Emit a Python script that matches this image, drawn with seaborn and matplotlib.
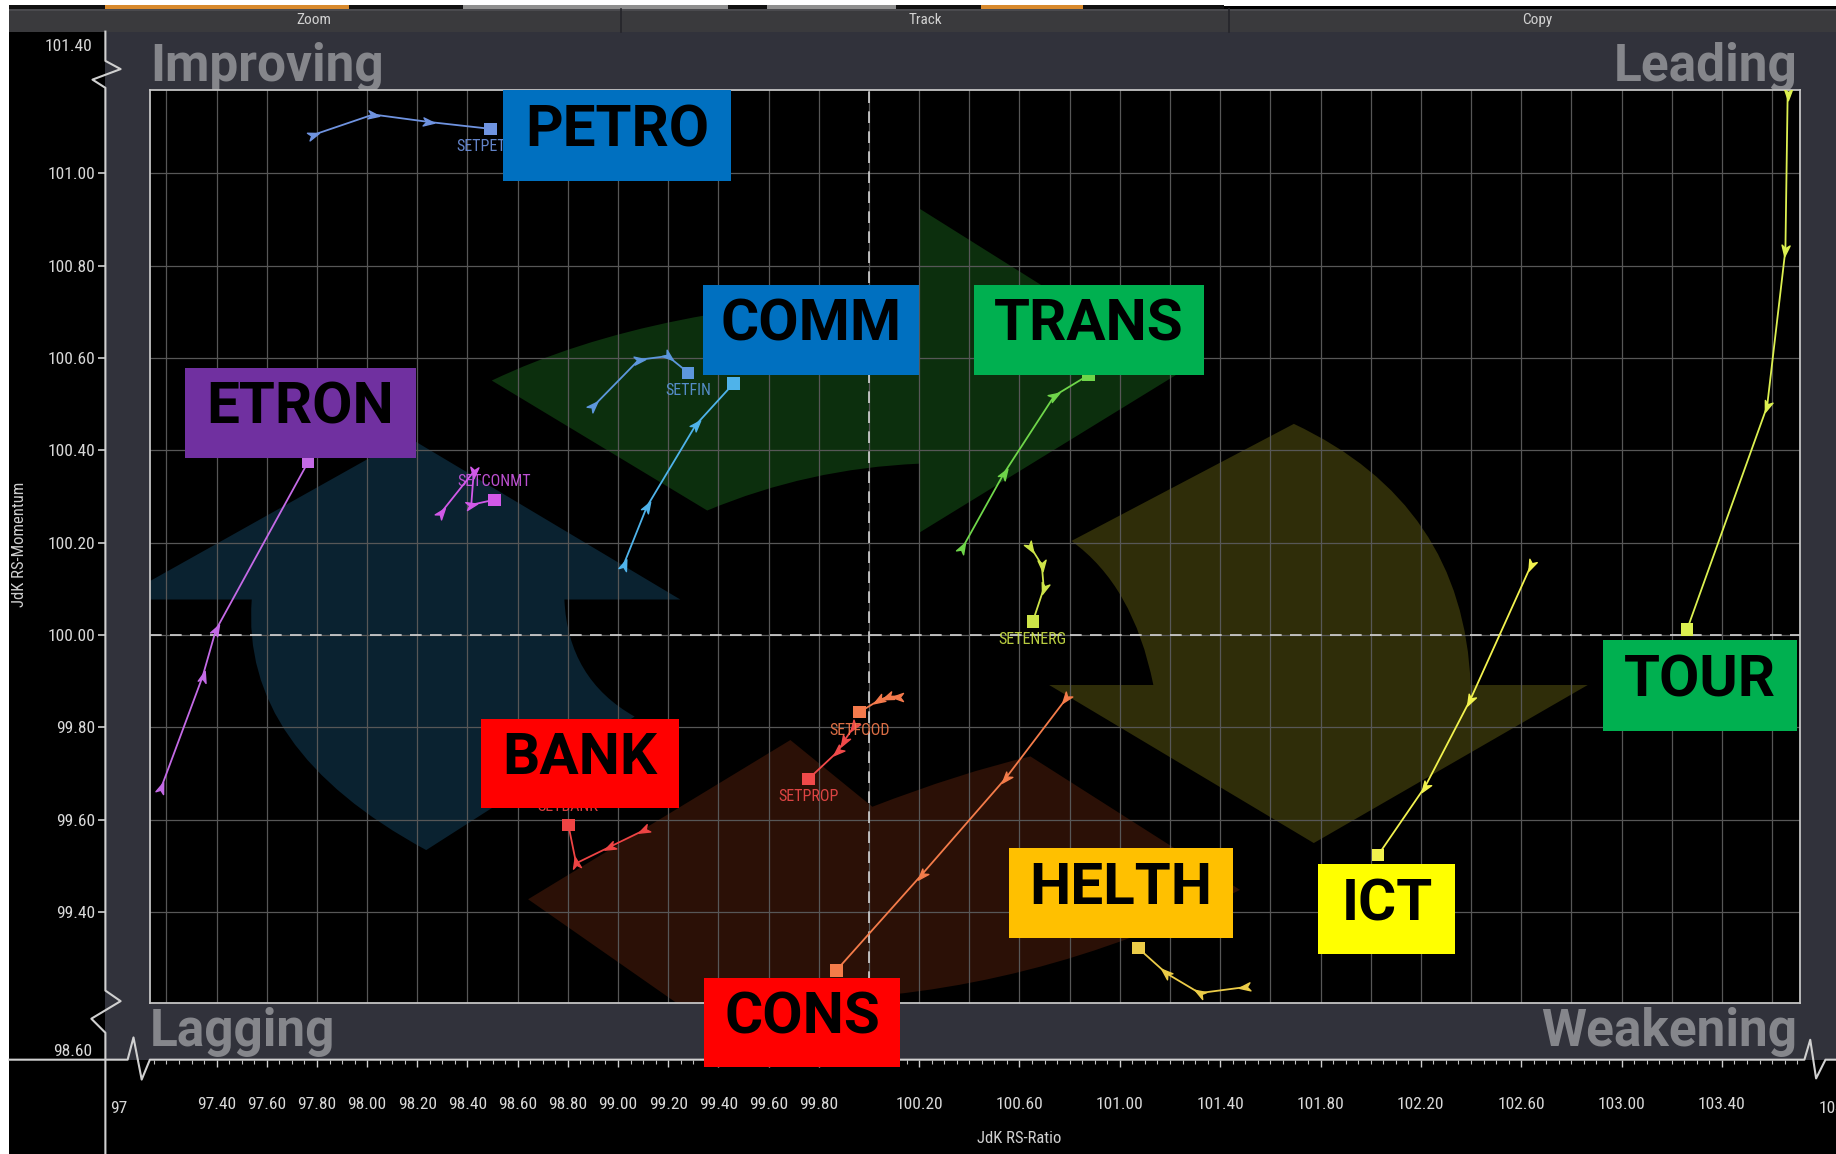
import numpy as np
import pandas as pd
import matplotlib
matplotlib.use("Agg")
import matplotlib.pyplot as plt
import seaborn as sns
from matplotlib import font_manager
from matplotlib.patches import Rectangle, PathPatch
from matplotlib.path import Path
from matplotlib.lines import Line2D
from matplotlib.markers import MarkerStyle
from matplotlib.transforms import Affine2D
from matplotlib.ticker import MultipleLocator

# ---- data: JdK RS-Ratio / RS-Momentum trails (oldest point first, last = current) ----
TICKERS = ["SETPETRO", "SETFIN", "SETCOMM", "SETTRANS", "SETENERG", "SETETRON",
           "SETCONMT", "SETBANK", "SETPROP", "SETFOOD", "SETCONS", "SETHELTH",
           "SETICT", "SETTOUR"]

PETRO_RATIO = [97.786, 98.024, 98.244, 98.491]
PETRO_MOM = [101.083, 101.127, 101.111, 101.096]
FIN_RATIO = [98.901, 99.083, 99.198, 99.280]
FIN_MOM = [100.495, 100.596, 100.604, 100.568]
COMM_RATIO = [99.022, 99.115, 99.310, 99.461]
COMM_MOM = [100.152, 100.278, 100.455, 100.545]
TRANS_RATIO = [100.372, 100.537, 100.739, 100.876]
TRANS_MOM = [100.188, 100.349, 100.518, 100.563]
ENERG_RATIO = [100.644, 100.689, 100.697, 100.653]
ENERG_MOM = [100.191, 100.152, 100.101, 100.029]
ETRON_RATIO = [97.178, 97.344, 97.397, 97.765]
ETRON_MOM = [99.668, 99.910, 100.011, 100.375]
CONMT_RATIO = [98.293, 98.425, 98.415, 98.507]
CONMT_MOM = [100.264, 100.354, 100.282, 100.293]
BANK_RATIO = [99.105, 98.969, 98.833, 98.802]
BANK_MOM = [99.578, 99.542, 99.506, 99.589]
PROP_RATIO = [99.942, 99.900, 99.876, 99.760]
PROP_MOM = [99.803, 99.770, 99.748, 99.689]
FOOD_RATIO = [100.114, 100.077, 100.040, 99.962]
FOOD_MOM = [99.867, 99.867, 99.859, 99.833]
CONS_RATIO = [100.787, 100.545, 100.210, 99.870]
CONS_MOM = [99.863, 99.690, 99.481, 99.274]
HELTH_RATIO = [101.501, 101.318, 101.185, 101.074]
HELTH_MOM = [99.238, 99.225, 99.268, 99.322]
ICT_RATIO = [102.640, 102.397, 102.217, 102.030]
ICT_MOM = [100.152, 99.860, 99.672, 99.524]
TOUR_RATIO = [103.662, 103.653, 103.580, 103.261]
TOUR_MOM = [101.172, 100.834, 100.495, 100.012]

TRAIL_COLORS = ["#6f93e0", "#5d97dc", "#4fb3ea", "#6fd64a", "#cde448", "#c46ae6",
                "#d259e8", "#ee4444", "#f04a4a", "#f47a4c", "#f47c4a", "#eccc48",
                "#f2f24e", "#dcf050"]
# where the small ticker label sits; "none" = hidden under a call-out box
LABEL_SIDE = ["below", "below", "none", "none", "below", "none", "above",
              "above", "below", "below", "none", "none", "none", "none"]

CALLOUTS = ["PETRO", "COMM", "TRANS", "ETRON", "BANK", "CONS", "HELTH", "ICT", "TOUR"]
CALLOUT_COLORS = ["#0070c0", "#0070c0", "#00b050", "#7030a0", "#ff0000", "#ff0000",
                  "#ffc000", "#ffff00", "#00b050"]

X_TICKS = [97.4, 97.6, 97.8, 98.0, 98.2, 98.4, 98.6, 98.8, 99.0, 99.2, 99.4, 99.6, 99.8,
           100.2, 100.6, 101.0, 101.4, 101.8, 102.2, 102.6, 103.0, 103.4]
X_TICK_LABELS = ["97.40", "97.60", "97.80", "98.00", "98.20", "98.40", "98.60", "98.80",
                 "99.00", "99.20", "99.40", "99.60", "99.80", "100.20", "100.60", "101.00",
                 "101.40", "101.80", "102.20", "102.60", "103.00", "103.40"]
Y_TICKS = [99.4, 99.6, 99.8, 100.0, 100.2, 100.4, 100.6, 100.8, 101.0]
Y_TICK_LABELS = ["99.40", "99.60", "99.80", "100.00", "100.20", "100.40", "100.60",
                 "100.80", "101.00"]

X_LIM = (97.134, 103.710)
Y_LIM = (99.2025, 101.1797)

ratios = [PETRO_RATIO, FIN_RATIO, COMM_RATIO, TRANS_RATIO, ENERG_RATIO, ETRON_RATIO,
          CONMT_RATIO, BANK_RATIO, PROP_RATIO, FOOD_RATIO, CONS_RATIO, HELTH_RATIO,
          ICT_RATIO, TOUR_RATIO]
moms = [PETRO_MOM, FIN_MOM, COMM_MOM, TRANS_MOM, ENERG_MOM, ETRON_MOM, CONMT_MOM,
        BANK_MOM, PROP_MOM, FOOD_MOM, CONS_MOM, HELTH_MOM, ICT_MOM, TOUR_MOM]

rows = []
for t, xs, ys in zip(TICKERS, ratios, moms):
    for i, (x, y) in enumerate(zip(xs, ys)):
        rows.append({"ticker": t, "step": i, "ratio": x, "momentum": y})
df = pd.DataFrame(rows)
palette = dict(zip(TICKERS, TRAIL_COLORS))


def first_font(*names):
    have = {f.name for f in font_manager.fontManager.ttflist}
    for n in names:
        if n in have:
            return n
    return "DejaVu Sans"


COND = first_font("Liberation Sans Narrow", "Roboto Condensed", "Roboto")
BOLD = first_font("Roboto", "Open Sans", "DejaVu Sans")

# layout is measured in screenshot units (1568 wide)
SW = 1568.0
SH = 1154 * 1568 / 1836


def fx(px):
    return px / SW


def fy(py):
    return 1 - py / SH


fig = plt.figure(figsize=(18.36, 11.54), dpi=100, facecolor="black")


def frect(x0, y0, x1, y1, color, z=-5):
    fig.add_artist(Rectangle((fx(x0), fy(y1)), fx(x1) - fx(x0), fy(y0) - fy(y1),
                             transform=fig.transFigure, facecolor=color,
                             edgecolor="none", zorder=z))


def fline(pts, color="#d0d0d0", lw=1.5, z=2):
    fig.add_artist(Line2D([fx(p[0]) for p in pts], [fy(p[1]) for p in pts],
                          transform=fig.transFigure, color=color, lw=lw, zorder=z))


# window chrome
frect(0, 0, SW, 5, "white")
frect(0, 4.5, 1045, 7.5, "#111111")
for x0, x1, c in [(90, 298, "#d8892c"), (395, 622, "#8e8e8e"), (655, 765, "#8e8e8e"),
                  (838, 925, "#d8892c")]:
    frect(x0, 4.5, x1, 7.5, c, z=-4)
frect(0, 7.5, SW, 27, "#3a3a3d")
frect(0, 7.5, SW, 9, "#4a4a4e", z=-4)
for xs in (530, 1050):
    fline([(xs, 8), (xs, 27)], color="#25252a", lw=1.2, z=-3)
for s, x in [("Zoom", 268), ("Track", 790), ("Copy", 1313)]:
    fig.text(fx(x), fy(17.5), s, ha="center", va="center", fontsize=11,
             color="#d2d2d2", family=COND, zorder=-3)
frect(0, 0, 8, SH, "white", z=-2)
frect(90, 27, SW, 905, "#31323b")

# quadrant names
QUAD = [("Improving", 128, 69, "left"), ("Leading", 1535, 69, "right"),
        ("Lagging", 128, 893, "left"), ("Weakening", 1535, 893, "right")]
for s, x, y, ha in QUAD:
    fig.text(fx(x), fy(y), s, ha=ha, va="baseline", fontsize=37, fontweight="bold",
             family=BOLD, color="#85868b", zorder=-3)

# main plot
ax = fig.add_axes([fx(128), fy(857), fx(1537) - fx(128), fy(77) - fy(857)])
ax.set_facecolor("black")
ax.set_xlim(*X_LIM)
ax.set_ylim(*Y_LIM)
ax.xaxis.set_major_locator(MultipleLocator(0.2))
ax.yaxis.set_major_locator(MultipleLocator(0.2))
ax.grid(True, color="#575757", lw=0.9)
ax.set_axisbelow(True)
ax.tick_params(length=0, labelbottom=False, labelleft=False)
for sp in ax.spines.values():
    sp.set_color("#c4c4c4")
    sp.set_linewidth(1.3)

# rotation arrows in the background (screenshot units)
BG_SHAPES = [
    ("#0a2230", [("M", 348, 373), ("L", 581, 512), ("L", 482, 512), ("Q", 485, 580, 542, 612),
                 ("L", 364, 726), ("Q", 205, 640, 215, 512), ("L", 100, 512), ("Z",)]),
    ("#0c2f0d", [("M", 420, 325), ("Q", 560, 258, 785, 252), ("L", 785, 178), ("L", 1008, 318),
                 ("L", 785, 455), ("L", 785, 396), ("Q", 690, 400, 604, 436), ("Z",)]),
    ("#2f2d09", [("M", 1105, 362), ("Q", 1250, 430, 1256, 585), ("L", 1356, 585),
                 ("L", 1122, 720), ("L", 896, 585), ("L", 985, 585),
                 ("Q", 968, 500, 915, 462), ("Z",)]),
    ("#2b1006", [("M", 451, 768), ("L", 675, 632), ("L", 745, 689), ("Q", 820, 660, 880, 646),
                 ("L", 1059, 760), ("Q", 880, 850, 690, 854), ("L", 640, 900), ("Z",)]),
]


def to_axes(px, py):
    return ((px - 128) / (1537 - 128), (857 - py) / (857 - 77))


for color, spec in BG_SHAPES:
    verts, codes = [], []
    for cmd in spec:
        if cmd[0] == "M":
            verts.append(to_axes(cmd[1], cmd[2])); codes.append(Path.MOVETO)
        elif cmd[0] == "L":
            verts.append(to_axes(cmd[1], cmd[2])); codes.append(Path.LINETO)
        elif cmd[0] == "Q":
            verts += [to_axes(cmd[1], cmd[2]), to_axes(cmd[3], cmd[4])]
            codes += [Path.CURVE3, Path.CURVE3]
        else:
            verts.append(verts[0]); codes.append(Path.CLOSEPOLY)
    ax.add_patch(PathPatch(Path(verts, codes), transform=ax.transAxes,
                           facecolor=color, edgecolor="none", zorder=0.3))

ax.axvline(100, color="#d4d4d4", lw=1.2, dashes=(7, 5), zorder=2)
ax.axhline(100, color="#d4d4d4", lw=1.2, dashes=(7, 5), zorder=2)

# trails
sns.lineplot(data=df, x="ratio", y="momentum", hue="ticker", palette=palette,
             sort=False, estimator=None, legend=False, linewidth=1.3, ax=ax, zorder=4)
last = df.groupby("ticker").tail(1)
sns.scatterplot(data=last, x="ratio", y="momentum", hue="ticker", palette=palette,
                marker="s", s=80, linewidth=0, legend=False, ax=ax, zorder=6)
ax.set_xlabel("")
ax.set_ylabel("")

chevron = Path([(1.0, 0.0), (-0.8, 0.65), (-0.3, 0.0), (-0.8, -0.65), (1.0, 0.0)],
               [Path.MOVETO, Path.LINETO, Path.LINETO, Path.LINETO, Path.CLOSEPOLY])
for t, xs, ys, c, side in zip(TICKERS, ratios, moms, TRAIL_COLORS, LABEL_SIDE):
    pts = ax.transData.transform(np.column_stack([xs, ys]))
    for i in range(len(xs) - 1):
        d = pts[i + 1] - pts[i]
        ang = np.degrees(np.arctan2(d[1], d[0]))
        ms = MarkerStyle(chevron, transform=Affine2D().rotate_deg(ang))
        ax.plot([xs[i]], [ys[i]], marker=ms, markersize=9, color=c, linestyle="none",
                zorder=5)
    if side == "none":
        continue
    off = 13 if side == "above" else -13
    ax.annotate(t, (xs[-1], ys[-1]), xytext=(0, off), textcoords="offset points",
                ha="center", va="center", fontsize=11.5, color=c, family=COND,
                alpha=0.9, zorder=6)

# y axis (outside scale)
ay = fig.add_axes([fx(90), fy(857), 0.0005, fy(77) - fy(857)])
ay.set_ylim(*Y_LIM)
ay.set_yticks(Y_TICKS, labels=Y_TICK_LABELS)
ay.set_xticks([])
ay.patch.set_visible(False)
for sp in ay.spines.values():
    sp.set_visible(False)
ay.tick_params(axis="y", direction="out", length=5, width=1.2, color="#cfcfcf",
               labelcolor="#d8d8d8", labelsize=12.5, labelfontfamily=COND, pad=2)

# x axis (outside scale)
axx = fig.add_axes([fx(128), fy(905), fx(1537) - fx(128), 0.0005])
axx.set_xlim(*X_LIM)
axx.set_xticks(X_TICKS, labels=X_TICK_LABELS)
axx.xaxis.set_minor_locator(MultipleLocator(0.05))
axx.set_yticks([])
axx.patch.set_visible(False)
for sp in axx.spines.values():
    sp.set_visible(False)
axx.tick_params(axis="x", which="major", direction="out", length=5, width=1,
                color="#cfcfcf", labelcolor="#d8d8d8", labelsize=12.5,
                labelfontfamily=COND, pad=22)
axx.tick_params(axis="x", which="minor", direction="out", length=3, width=0.8,
                color="#bdbdbd")

# axis lines with break marks
fline([(90, 27), (90, 52), (103, 59), (79, 68), (90, 75), (90, 846), (103, 855),
       (78, 870), (90, 882), (90, SH)])
fline([(8, 905), (109, 905), (114, 886), (121, 922), (128, 905), (1541, 905),
       (1546, 888), (1551, 921), (1559, 905), (SW, 905)])

for s, x, y, ha in [("101.40", 79, 40, "right"), ("98.60", 79, 898, "right"),
                    ("97", 94, 947, "left"), ("104", 1553, 947, "left")]:
    fig.text(fx(x), fy(y), s, ha=ha, va="center", fontsize=12.5, color="#d8d8d8",
             family=COND, zorder=3)
fig.text(fx(17), fy(465), "JdK RS-Momentum", rotation=90, ha="center", va="center",
         fontsize=12, color="#d0d0d0", family=COND)
fig.text(fx(870), fy(972), "JdK RS-Ratio", ha="center", va="center", fontsize=12,
         color="#d0d0d0", family=COND)

# call-out boxes pasted over the chart (screenshot units: x0, y0, x1, y1)
CALLOUT_BOXES = [(430, 77, 624, 155), (600, 243, 785, 320), (832, 243, 1028, 320),
                 (158, 314, 355, 391), (411, 614, 580, 690), (601, 835, 769, 911),
                 (862, 724, 1053, 801), (1126, 738, 1243, 815), (1369, 547, 1535, 624)]
for s, c, (x0, y0, x1, y1) in zip(CALLOUTS, CALLOUT_COLORS, CALLOUT_BOXES):
    frect(x0, y0, x1, y1, c, z=10)
    fig.text(fx((x0 + x1) / 2), fy((y0 + y1) / 2 - 4), s, ha="center", va="center",
             fontsize=42, fontweight="bold", family=BOLD, color="black", zorder=11)

fig.savefig("out.png", dpi=100, facecolor="black")
